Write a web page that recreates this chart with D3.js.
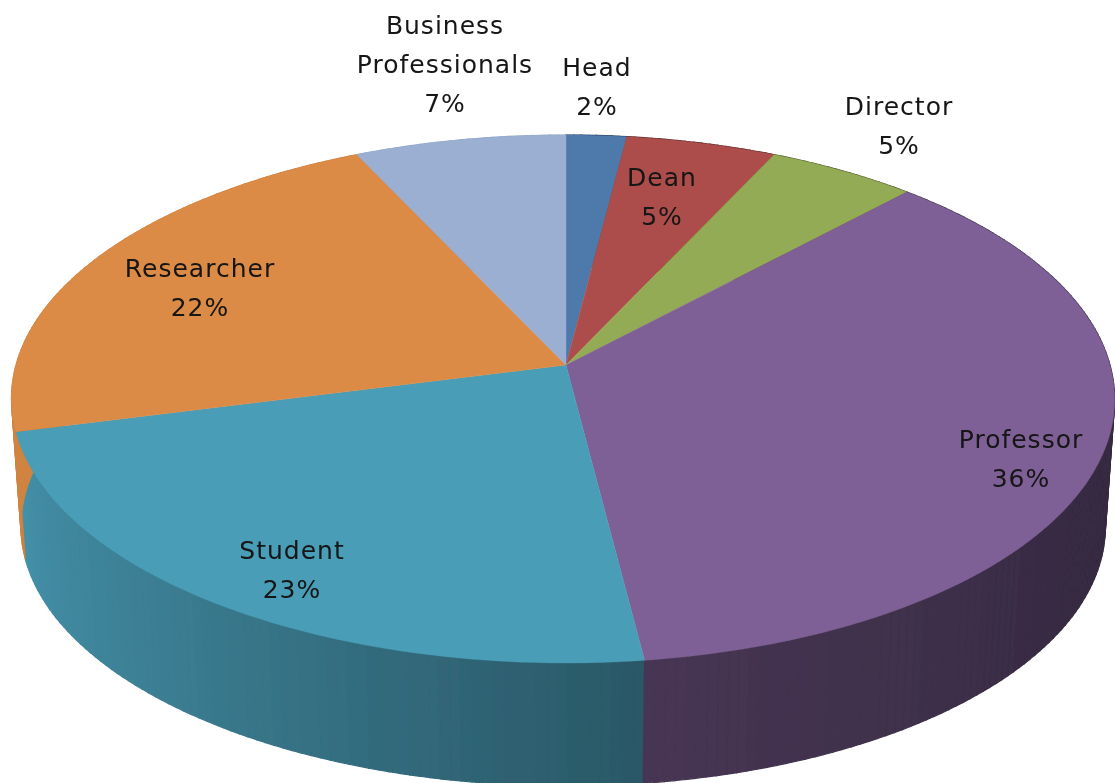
<!DOCTYPE html>
<html>
<head>
<meta charset="utf-8">
<script src="https://cdn.jsdelivr.net/npm/d3@7"></script>
<style>
  html, body { margin: 0; padding: 0; background: #fff; overflow: hidden; }
  text { font-family: "DejaVu Sans", sans-serif; fill: #141414; letter-spacing: 1px; }
</style>
</head>
<body>
<div id="chart"></div>
<script>
const categories = ["Head", "Dean", "Director", "Professor", "Student", "Researcher", "Business Professionals"];
const values = [2, 5, 5, 36, 23, 22, 7];
const colors = ["#4e79ab", "#ad4e4b", "#94ab57", "#7e6096", "#4a9db7", "#db8b45", "#9bafd3"];

const width = 1115, height = 783;

// where the label block of each slice sits (centre x, first baseline y)
const labelSpots = [[597, 76], [662, 186], [899, 115], [1021, 448], [292, 559], [200, 277], [445, 34]];
const lineHeight = 39;

const svg = d3.select("#chart")
    .append("svg")
    .attr("width", width)
    .attr("height", height);

// The reference is a soft upscaled screenshot, so everything gets a light blur
svg.append("defs").append("filter")
    .attr("id", "soft")
    .attr("filterUnits", "userSpaceOnUse")
    .attr("x", 0).attr("y", 0)
    .attr("width", width).attr("height", height)
    .append("feGaussianBlur")
    .attr("stdDeviation", 0.6);

const root = svg.append("g").attr("filter", "url(#soft)");

// Perspective view of the pie disc
const apex = {x: 566, y: 365}, radiusX = 547, radiusY = 259.6, tilt = 0.1288;
const depth = 128, shrink = 0.983;

function project(angle, lower) {
    const u = Math.sin(angle), v = Math.cos(angle), w = 1 + tilt * v;
    const x = apex.x + radiusX * u / w - 3 * u * u;
    const y = apex.y - radiusY * v / w;
    if (!lower) return [x, y];
    return [apex.x + (x - apex.x) * shrink, apex.y + depth + (y - apex.y) * shrink];
}

const pie = d3.pie().sort(null).value(d => d).startAngle(0).endAngle(2 * Math.PI);
const arcs = pie(values);
const line = d3.line();
const toRad = Math.PI / 180;

function arcAngles(a0, a1) {
    const n = Math.max(2, Math.ceil((a1 - a0) / toRad));
    return d3.range(n + 1).map(i => a0 + (a1 - a0) * i / n);
}

// Side wall gets darker towards the front right, like the Excel shading
const shade = d3.scaleLinear()
    .domain([120, 172.8, 222, 262])
    .range([0.44, 0.56, 0.8, 0.95])
    .clamp(true);

function wallColor(color, angle) {
    const c = d3.rgb(color), s = shade(angle / toRad);
    return d3.rgb(c.r * s, c.g * s, c.b * s).formatHex();
}

// Wall strips, 1 degree each, far ones first so near ones cover them
const strips = [];
arcs.forEach((d, i) => {
    const steps = arcAngles(d.startAngle, d.endAngle);
    d3.pairs(steps).forEach(([a0, a1]) => strips.push({a0, a1, i}));
});
strips.sort((a, b) => Math.cos((b.a0 + b.a1) / 2) > Math.cos((a.a0 + a.a1) / 2) ? -1 : 1);

root.append("g").selectAll("path")
    .data(strips)
    .join("path")
    .attr("d", d => line([project(d.a0), project(d.a1), project(d.a1, true), project(d.a0, true)]) + "Z")
    .attr("fill", d => wallColor(colors[d.i], (d.a0 + d.a1) / 2))
    .attr("stroke", d => wallColor(colors[d.i], (d.a0 + d.a1) / 2))
    .attr("stroke-width", 1.2);

// Top face of the pie
root.append("g").selectAll("path")
    .data(arcs)
    .join("path")
    .attr("d", d => line([[apex.x, apex.y]].concat(arcAngles(d.startAngle, d.endAngle).map(a => project(a)))) + "Z")
    .attr("fill", (d, i) => colors[i])
    .attr("stroke", (d, i) => colors[i])
    .attr("stroke-width", 0.4);

// Labels, "Business Professionals" breaks on two lines
const total = d3.sum(values);
const labels = root.append("g")
    .attr("text-anchor", "middle")
    .attr("font-size", 25)
    .selectAll("text")
    .data(categories)
    .join("text")
    .attr("transform", (d, i) => "translate(" + labelSpots[i][0] + "," + labelSpots[i][1] + ")");

labels.each(function(d, i) {
    const lines = d.split(" ").concat(d3.format(".0%")(values[i] / total));
    d3.select(this).selectAll("tspan")
        .data(lines)
        .join("tspan")
        .attr("x", 0)
        .attr("y", (t, j) => j * lineHeight)
        .text(t => t);
});
</script>
</body>
</html>
